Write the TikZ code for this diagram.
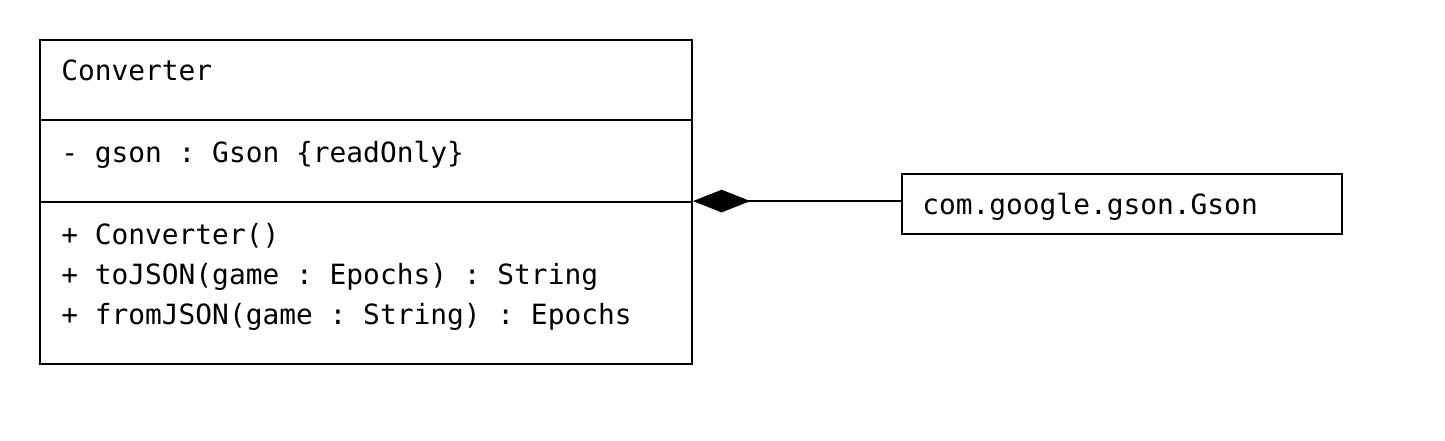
\documentclass[tikz,border=0pt]{standalone}
\usepackage{fontspec}
\usepackage{tikz}
\usetikzlibrary{arrows.meta,positioning}
\setmonofont{DejaVu Sans Mono}
\definecolor{Ink}{HTML}{000000}
\tikzset{
  part/.style={draw=Ink, line width=1.4pt, minimum width=489pt, inner sep=0pt},
  txt/.style={anchor=base west, inner sep=0pt, text=Ink, font=\ttfamily\fontsize{20.9}{25}\selectfont},
  compose/.style={{Diamond[length=43pt, width=17pt]}-, line width=1.4pt, draw=Ink}
}

\begin{document}
\begin{tikzpicture}[x=0.75pt,y=-0.75pt]
  \useasboundingbox (0,0) rectangle (1445,441);
  \node[part, minimum height=60pt] (name) at (366,80) {};
  \node[part, minimum height=61.5pt] (attr) at (366,161) {};
  \node[part, minimum height=121.5pt] (ops) at (366,283) {};
  \node[part, minimum width=330pt, minimum height=45pt] (gson) at (1122,204) {};
  \node[txt] (tname) at (61,81) {Converter};
  \node[txt] (tattr) at (61,163) {- gson : Gson \{readOnly\}};
  \node[txt] (top1) at (61,245) {+ Converter()};
  \node[txt] (top2) at (61,285) {+ toJSON(game : Epochs) : String};
  \node[txt] (top3) at (61,325) {+ fromJSON(game : String) : Epochs};
  \node[txt] (tgson) at (922,215) {com.google.gson.Gson};
  \draw[compose] (ops.north east) -- (ops.north east -| gson.west);
\end{tikzpicture}
\end{document}
